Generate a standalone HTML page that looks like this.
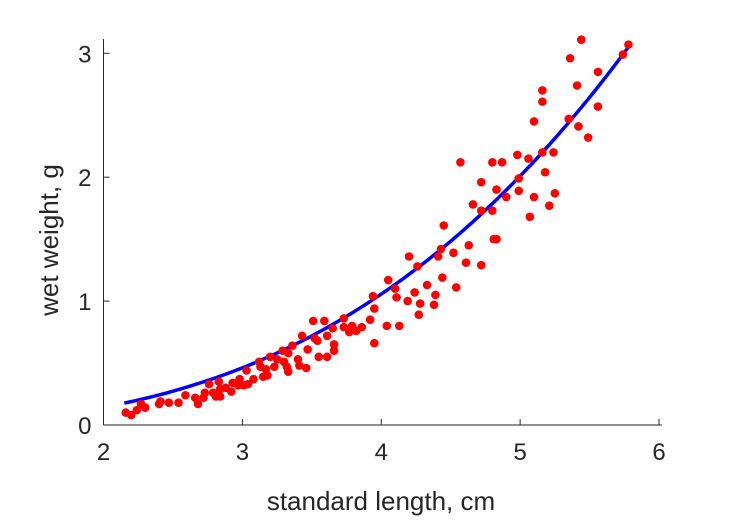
<!DOCTYPE html>
<html><head><meta charset="utf-8"><style>
body{margin:0;background:#fff}
svg{display:block;font-family:"Liberation Sans",Arial,sans-serif}
</style></head><body>
<svg id="chart" width="729" height="521" viewBox="0 0 729 521">
<g id="axes"></g>
<g id="fit"></g>
<g id="pts"></g>
<text x="381" y="510" text-anchor="middle" font-size="26" fill="#262626">standard length, cm</text>
<text transform="translate(58,240) rotate(-90)" text-anchor="middle" font-size="26" fill="#262626">wet weight, g</text>
</svg>
<script>
const xTicks=[2,3,4,5,6];
const yTicks=[0,1,2,3];
const lengths=[5.44,5.78,5.74,5.36,5.56,5.41,5.16,5.16,5.56,5.10,5.35,5.42,5.49,4.57,4.80,4.87,4.98,5.06,5.16,5.24,5.18,4.99,4.72,4.83,4.99,4.90,5.10,5.25,5.21,4.66,4.72,4.80,5.07,4.45,4.81,4.83,4.43,4.63,4.41,4.52,4.20,4.26,4.61,4.72,4.05,4.44,4.10,4.33,4.54,3.94,4.24,4.11,4.39,4.19,4.28,4.38,3.95,4.27,3.92,3.86,4.04,4.13,3.95,
2.16,2.20,2.24,2.27,2.30,2.40,2.41,2.47,2.54,2.59,2.66,2.68,2.72,2.73,2.76,2.79,2.81,2.83,2.84,2.84,2.88,2.92,2.93,2.97,2.98,3.01,3.03,3.04,3.08,3.12,3.13,3.15,3.18,3.17,3.20,3.23,3.25,3.29,3.30,3.32,3.33,3.33,3.36,3.40,3.41,3.46,3.43,3.47,3.51,3.59,3.52,3.54,3.55,3.61,3.61,3.65,3.66,3.66,3.73,3.73,3.77,3.79,3.82];
const weights=[3.11,3.07,2.99,2.96,2.85,2.74,2.70,2.61,2.57,2.45,2.47,2.41,2.32,2.12,2.12,2.12,2.18,2.15,2.20,2.20,2.04,1.99,1.96,1.90,1.89,1.84,1.84,1.87,1.77,1.78,1.73,1.73,1.68,1.61,1.50,1.50,1.42,1.45,1.36,1.39,1.36,1.28,1.31,1.29,1.17,1.19,1.10,1.13,1.11,1.04,1.07,1.03,1.05,1.00,0.98,0.97,0.94,0.89,0.85,0.79,0.80,0.80,0.66,
0.10,0.08,0.12,0.17,0.14,0.17,0.19,0.18,0.18,0.24,0.22,0.17,0.22,0.26,0.33,0.26,0.23,0.35,0.29,0.23,0.30,0.27,0.34,0.32,0.37,0.32,0.44,0.33,0.37,0.51,0.47,0.39,0.40,0.45,0.55,0.47,0.53,0.60,0.51,0.47,0.43,0.58,0.64,0.53,0.48,0.46,0.72,0.61,0.84,0.84,0.70,0.68,0.55,0.55,0.72,0.78,0.65,0.60,0.86,0.79,0.75,0.80,0.76];
const fitA=0.0195, fitB=2.88, fitMin=2.15, fitMax=5.78;

const NS="http://www.w3.org/2000/svg";
const X0=103.5,X1=659,Y0=425,Y3=53.3;
const sx=v=>X0+(v-2)*(X1-X0)/4;
const sy=v=>Y0-v*(Y0-Y3)/3;
function mk(tag,attrs,parent){const e=document.createElementNS(NS,tag);for(const k in attrs)e.setAttribute(k,attrs[k]);parent.appendChild(e);return e;}
const ax=document.getElementById('axes');
let l=mk('line',{x1:X0,y1:39,x2:X0,y2:Y0,stroke:'#262626','stroke-width':1},ax);


l=mk('line',{x1:X0,y1:Y0,x2:662,y2:Y0,stroke:'#262626','stroke-width':1},ax);


xTicks.forEach(t=>{
 const tk=mk('line',{x1:sx(t),y1:Y0,x2:sx(t),y2:Y0-6,stroke:'#262626'},ax);
 
 
 const tx=mk('text',{x:sx(t),y:Y0+35,'text-anchor':'middle','font-size':24,fill:'#262626'},ax);
 tx.textContent=t;
 
 
});
yTicks.forEach(t=>{
 const tk=mk('line',{x1:X0,y1:sy(t),x2:X0+6,y2:sy(t),stroke:'#262626'},ax);
 
 
 const tx=mk('text',{x:X0-12,y:sy(t)+9,'text-anchor':'end','font-size':24,fill:'#262626'},ax);
 tx.textContent=t;
 
 
});
let d='';
for(let i=0;i<=100;i++){const x=fitMin+(fitMax-fitMin)*i/100;const y=fitA*Math.pow(x,fitB);d+=(i?'L':'M')+sx(x).toFixed(1)+','+sy(y).toFixed(1);}
const p=mk('path',{d:d,fill:'none',stroke:'#0000ff','stroke-width':3.5},document.getElementById('fit'));


const pg=document.getElementById('pts');
lengths.forEach((x,i)=>{
 const c=mk('circle',{cx:sx(x),cy:sy(weights[i]),r:4.3,fill:'#ff0000'},pg);
 
 
});
</script>
</body></html>
